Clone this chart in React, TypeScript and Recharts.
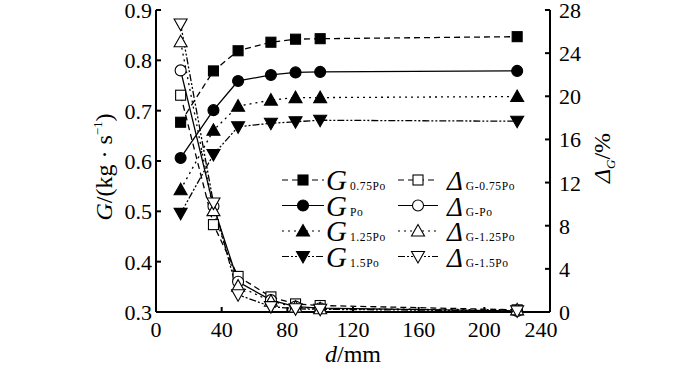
import { LineChart, Line, XAxis, YAxis, Legend, Label } from "recharts";

const distances = [15, 35, 50, 70, 85, 100, 220];

const g075 = [0.677, 0.779, 0.819, 0.836, 0.842, 0.843, 0.847];
const gPo = [0.606, 0.701, 0.759, 0.771, 0.776, 0.777, 0.779];
const g125 = [0.543, 0.661, 0.709, 0.721, 0.726, 0.726, 0.728];
const g15 = [0.496, 0.613, 0.668, 0.675, 0.678, 0.681, 0.679];

const d075 = [20.1, 8.1, 3.3, 1.4, 0.75, 0.6, 0.2];
const dPo = [22.4, 9.8, 2.8, 1.1, 0.5, 0.35, 0.1];
const d125 = [25.05, 9.4, 2.4, 1.0, 0.45, 0.3, 0.2];
const d15 = [26.7, 10.1, 1.6, 0.5, 0.3, 0.25, 0.1];

const xTicks = [0, 40, 80, 120, 160, 200, 240];
const gTicks = [0.3, 0.4, 0.5, 0.6, 0.7, 0.8, 0.9];
const deltaTicks = [0, 4, 8, 12, 16, 20, 24, 28];

const data = distances.map((d, i) => ({
  d,
  g075: g075[i],
  gPo: gPo[i],
  g125: g125[i],
  g15: g15[i],
  d075: d075[i],
  dPo: dPo[i],
  d125: d125[i],
  d15: d15[i],
}));

const FONT = "Liberation Serif";

type Shape = "square" | "circle" | "up" | "down";

const DASH_075 = "6 4";
const DASH_125 = "2 4";
const DASH_15 = "7 2 2 2 2 2";

const gSeries = [
  { key: "g075", sub: "0.75Po", dash: DASH_075, shape: "square" as Shape },
  { key: "gPo", sub: "Po", dash: undefined, shape: "circle" as Shape },
  { key: "g125", sub: "1.25Po", dash: DASH_125, shape: "up" as Shape },
  { key: "g15", sub: "1.5Po", dash: DASH_15, shape: "down" as Shape },
];

const dSeries = [
  { key: "d075", sub: "G-0.75Po", dash: DASH_075, shape: "square" as Shape },
  { key: "dPo", sub: "G-Po", dash: undefined, shape: "circle" as Shape },
  { key: "d125", sub: "G-1.25Po", dash: DASH_125, shape: "up" as Shape },
  { key: "d15", sub: "G-1.5Po", dash: DASH_15, shape: "down" as Shape },
];

const Marker = ({ cx, cy, shape, filled }: { cx: number; cy: number; shape: Shape; filled: boolean }) => {
  const fill = filled ? "#000" : "#fff";
  const common = { fill, stroke: "#000", strokeWidth: 1.1 };
  if (shape === "square") return <rect x={cx - 5} y={cy - 5} width={10} height={10} {...common} />;
  if (shape === "circle") return <circle cx={cx} cy={cy} r={5.5} {...common} />;
  if (shape === "up")
    return <polygon points={`${cx},${cy - 6.5} ${cx - 6.5},${cy + 5} ${cx + 6.5},${cy + 5}`} {...common} />;
  return <polygon points={`${cx},${cy + 6.5} ${cx - 6.5},${cy - 5} ${cx + 6.5},${cy - 5}`} {...common} />;
};

const makeDot = (shape: Shape, filled: boolean) => (props: any) => {
  const { cx, cy, index } = props;
  return (
    <g key={`dot-${shape}-${filled}-${index}`}>
      <Marker cx={cx} cy={cy} shape={shape} filled={filled} />
    </g>
  );
};

// axis tick text in Times-like font
const makeTick =
  (anchor: "start" | "middle" | "end", dy: number, fmt?: (v: number) => string, shiftLast = 0) =>
  (props: any) => {
    const { x, y, payload, index, visibleTicksCount } = props;
    const v = payload.value as number;
    const dx = shiftLast && index === visibleTicksCount - 1 ? shiftLast : 0;
    return (
      <text x={x + dx} y={y} dy={dy} textAnchor={anchor} fontFamily={FONT} fontSize={22} fill="#000">
        {fmt ? fmt(v) : String(v)}
      </text>
    );
  };

const LegendBox = () => {
  const rowH = 25.5;
  return (
    <svg width={260} height={110} style={{ overflow: "visible" }}>
      {gSeries.map((s, i) => {
        const cy = 12 + i * rowH;
        return (
          <g key={s.key}>
            <line x1={2} x2={44} y1={cy} y2={cy} stroke="#000" strokeWidth={1.2} strokeDasharray={s.dash} />
            <Marker cx={23} cy={cy} shape={s.shape} filled />
            <text x={46} y={cy + 10} fontFamily={FONT} fontSize={29} fontStyle="italic">
              G
              <tspan fontSize={11.5} fontStyle="normal" dx={3} letterSpacing={0.6}>
                {s.sub}
              </tspan>
            </text>
          </g>
        );
      })}
      {dSeries.map((s, i) => {
        const cy = 12 + i * rowH;
        return (
          <g key={s.key}>
            <line x1={118} x2={158} y1={cy} y2={cy} stroke="#000" strokeWidth={1.2} strokeDasharray={s.dash} />
            <Marker cx={138} cy={cy} shape={s.shape} filled={false} />
            <text x={167} y={cy + 10} fontFamily={FONT} fontSize={27} fontStyle="italic">
              Δ
              <tspan fontSize={11.5} fontStyle="normal" dx={3} letterSpacing={0.6}>
                {s.sub}
              </tspan>
            </text>
          </g>
        );
      })}
    </svg>
  );
};

const App = () => {
  return (
    <div style={{ position: "absolute", left: 0, top: 0, width: 700, height: 367, background: "#fff" }}>
      <LineChart width={700} height={367} data={data} margin={{ top: 10, right: 0, bottom: 0, left: 0 }}>
        <XAxis
          dataKey="d"
          type="number"
          domain={[0, 240]}
          ticks={xTicks}
          height={55}
          stroke="#000"
          strokeWidth={2}
          tickSize={-5}
          tickMargin={5}
          tick={makeTick("middle", 25, undefined, -9)}
        >
          <Label
            content={() => (
              <text x={353} y={362} textAnchor="middle" fontFamily={FONT} fontSize={24}>
                <tspan fontStyle="italic">d</tspan>/mm
              </text>
            )}
          />
        </XAxis>
        <YAxis
          yAxisId="g"
          orientation="left"
          domain={[0.3, 0.9]}
          ticks={gTicks}
          width={156}
          stroke="#000"
          strokeWidth={2}
          tickSize={-5}
          tickMargin={9}
          tick={makeTick("end", 8, (v) => v.toFixed(1))}
        >
          <Label
            content={() => (
              <text transform="translate(112,167) rotate(-90)" textAnchor="middle" fontFamily={FONT} fontSize={24}>
                <tspan fontStyle="italic">G</tspan>/(kg · s
                <tspan fontSize={13} dy={-10}>−1</tspan>
                <tspan dy={10}>)</tspan>
              </text>
            )}
          />
        </YAxis>
        <YAxis
          yAxisId="delta"
          orientation="right"
          domain={[0, 28]}
          ticks={deltaTicks}
          width={150}
          stroke="#000"
          strokeWidth={2}
          tickSize={-5}
          tickMargin={14}
          tick={makeTick("start", 8)}
        >
          <Label
            content={() => (
              <text transform="translate(610,158) rotate(-90)" textAnchor="middle" fontFamily={FONT} fontSize={24}>
                <tspan fontStyle="italic">Δ</tspan>
                <tspan fontSize={13} fontStyle="italic" dy={5}>G</tspan>
                <tspan dy={-5}>/%</tspan>
              </text>
            )}
          />
        </YAxis>
        {gSeries.map((s) => (
          <Line
            key={s.key}
            yAxisId="g"
            dataKey={s.key}
            type="linear"
            stroke="#000"
            strokeWidth={1.3}
            strokeDasharray={s.dash}
            dot={makeDot(s.shape, true)}
            activeDot={false}
            isAnimationActive={false}
          />
        ))}
        {dSeries.map((s) => (
          <Line
            key={s.key}
            yAxisId="delta"
            dataKey={s.key}
            type="linear"
            stroke="#000"
            strokeWidth={1.3}
            strokeDasharray={s.dash}
            dot={makeDot(s.shape, false)}
            activeDot={false}
            isAnimationActive={false}
          />
        ))}
        <Legend
          layout="vertical"
          align="center"
          verticalAlign="middle"
          content={() => <LegendBox />}
          wrapperStyle={{ left: 280, top: 168, width: 260, height: 110 }}
        />
      </LineChart>
    </div>
  );
};

export default App;
